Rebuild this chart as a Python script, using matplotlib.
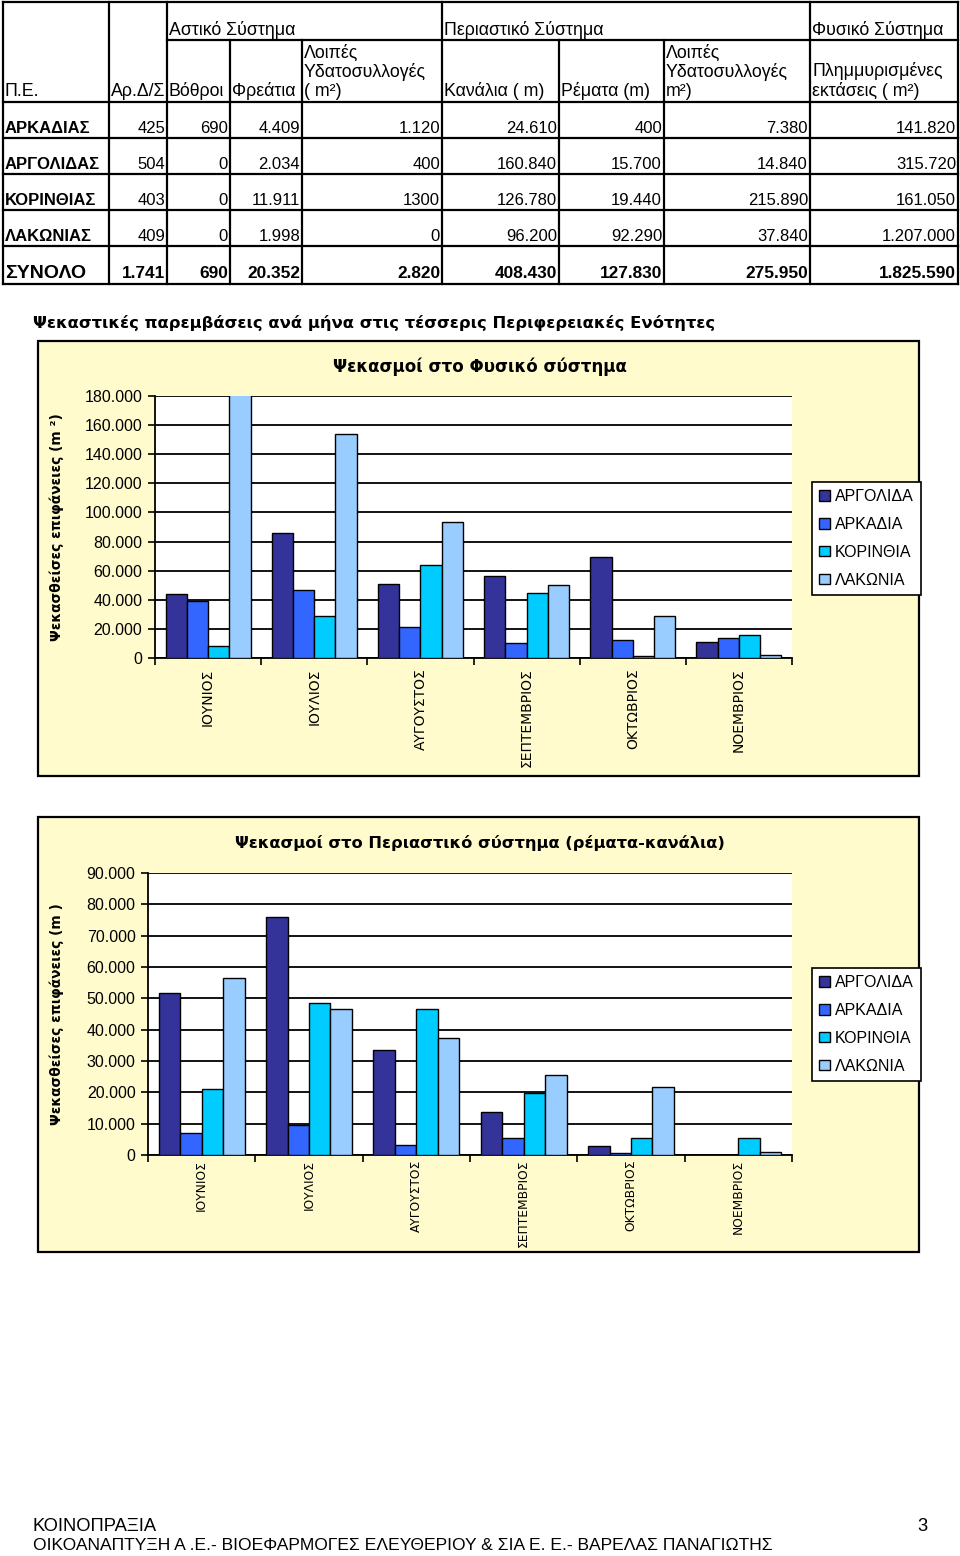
import numpy as np
import matplotlib
matplotlib.use("Agg")
import matplotlib.pyplot as plt
from matplotlib.patches import Rectangle
from matplotlib.ticker import FixedLocator, FuncFormatter

# --- table data (as printed) ---
REGIONS = ["ΑΡΚΑΔΙΑΣ", "ΑΡΓΟΛΙΔΑΣ", "ΚΟΡΙΝΘΙΑΣ", "ΛΑΚΩΝΙΑΣ"]
AR_DS = ["425", "504", "403", "409"]
VOTHROI = ["690", "0", "0", "0"]
FREATIA = ["4.409", "2.034", "11.911", "1.998"]
ASTIKO_LOIPES = ["1.120", "400", "1300", "0"]
KANALIA = ["24.610", "160.840", "126.780", "96.200"]
REMATA = ["400", "15.700", "19.440", "92.290"]
PERI_LOIPES = ["7.380", "14.840", "215.890", "37.840"]
PLIMMYRES = ["141.820", "315.720", "161.050", "1.207.000"]
TOTAL_LABEL = "ΣΥΝΟΛΟ"
TOTALS = ["1.741", "690", "20.352", "2.820", "408.430", "127.830", "275.950", "1.825.590"]

GROUP_HEADERS = ["Αστικό Σύστημα", "Περιαστικό Σύστημα", "Φυσικό Σύστημα"]
COL_HEADERS = ["Π.Ε.", "Αρ.Δ/Σ", "Βόθροι", "Φρεάτια", "Λοιπές\nΥδατοσυλλογές\n( m²)",
               "Κανάλια ( m)", "Ρέματα (m)", "Λοιπές\nΥδατοσυλλογές\nm²)",
               "Πλημμυρισμένες\nεκτάσεις ( m²)"]

# --- chart data ---
MONTHS = ["ΙΟΥΝΙΟΣ", "ΙΟΥΛΙΟΣ", "ΑΥΓΟΥΣΤΟΣ", "ΣΕΠΤΕΜΒΡΙΟΣ", "ΟΚΤΩΒΡΙΟΣ", "ΝΟΕΜΒΡΙΟΣ"]
SERIES = ["ΑΡΓΟΛΙΔΑ", "ΑΡΚΑΔΙΑ", "ΚΟΡΙΝΘΙΑ", "ΛΑΚΩΝΙΑ"]
COLORS = ["#333399", "#3366FF", "#00CCFF", "#99CCFF"]

fysiko_argolida = [44000, 85800, 50900, 56000, 69300, 11200]
fysiko_arkadia = [39400, 47000, 21300, 10300, 12400, 13500]
fysiko_korinthia = [8000, 28700, 64000, 44700, 1100, 15600]
fysiko_lakonia = [879000, 153600, 93600, 50000, 28700, 2300]

peri_argolida = [51800, 75900, 33500, 13800, 2900, 0]
peri_arkadia = [7000, 9700, 3300, 5300, 500, 0]
peri_korinthia = [21200, 48500, 46700, 19800, 5300, 5300]
peri_lakonia = [56500, 46700, 37300, 25500, 21700, 1000]

W, H = 960, 1556
BG = "#FFFBCC"
BOLD_FONT = ["DejaVu Sans"]
TABLE_FONT = ["Liberation Sans", "DejaVu Sans"]
FOOT_FONT = ["Liberation Sans Narrow", "Liberation Sans"]

fig = plt.figure(figsize=(W / 100, H / 100), dpi=100)
base = fig.add_axes([0, 0, 1, 1])
base.set_xlim(0, W)
base.set_ylim(H, 0)
base.axis("off")

# --- table grid ---
lw = 1.6
xs_full = [3, 109, 167, 442, 810, 958]
xs_sub = [230, 302, 559, 664]
ys_full = [2, 102, 138, 174, 210, 246, 284]
for x in xs_full:
    base.plot([x, x], [2, 284], color="black", lw=lw)
for x in xs_sub:
    base.plot([x, x], [40, 284], color="black", lw=lw)
for y in ys_full:
    base.plot([3, 958], [y, y], color="black", lw=lw)
base.plot([167, 958], [40, 40], color="black", lw=lw)

fs = 12
hfs = 12.8
for x, t in zip([169, 444, 812], GROUP_HEADERS):
    base.text(x, 35, t, fontsize=hfs, family=TABLE_FONT, va="baseline")
col_left = [3, 109, 167, 230, 302, 442, 559, 664, 810]
col_right = [109, 167, 230, 302, 442, 559, 664, 810, 958]
for x, t in zip(col_left, COL_HEADERS):
    base.text(x + 2, 100, t, fontsize=hfs, family=TABLE_FONT, va="bottom",
              linespacing=1.12)

columns = [AR_DS, VOTHROI, FREATIA, ASTIKO_LOIPES, KANALIA, REMATA, PERI_LOIPES, PLIMMYRES]
for i, region in enumerate(REGIONS):
    yb = ys_full[i + 2] - 5
    base.text(5, yb, region, fontsize=fs, family=TABLE_FONT, weight="bold", va="baseline")
    for j, col in enumerate(columns):
        base.text(col_right[j + 1] - 2, yb, col[i], fontsize=fs, family=TABLE_FONT,
                  ha="right", va="baseline")
yb = 284 - 6
base.text(5, yb, TOTAL_LABEL, fontsize=14, family=TABLE_FONT, weight="bold", va="baseline")
for j, v in enumerate(TOTALS):
    base.text(col_right[j + 1] - 2, yb, v, fontsize=12.4, family=TABLE_FONT,
              weight="bold", ha="right", va="baseline")

base.text(33, 323, "Ψεκαστικές παρεμβάσεις ανά μήνα στις τέσσερις Περιφερειακές Ενότητες",
          fontsize=11.8, family=BOLD_FONT, weight="bold", va="center")

# footer
base.text(33, 1531, "ΚΟΙΝΟΠΡΑΞΙΑ", fontsize=13.2, family=FOOT_FONT, va="baseline")
base.text(927, 1531, "3", fontsize=13.2, family=FOOT_FONT, va="baseline", ha="right")
base.text(33, 1550,
          "ΟΙΚΟΑΝΑΠΤΥΞΗ Α .Ε.- ΒΙΟΕΦΑΡΜΟΓΕΣ ΕΛΕΥΘΕΡΙΟΥ & ΣΙΑ Ε. Ε.- ΒΑΡΕΛΑΣ ΠΑΝΑΓΙΩΤΗΣ",
          fontsize=12.6, family=FOOT_FONT, va="baseline")


def fmt(v, _pos=None):
    return f"{v:,.0f}".replace(",", ".")


def bar_chart(frame, plot, series, ymax, ystep, title, title_y, title_fs, ylabel,
              month_fs, month_pad, legend_xy):
    fx0, fy0, fx1, fy1 = frame
    base.add_patch(Rectangle((fx0, fy0), fx1 - fx0, fy1 - fy0, facecolor=BG,
                             edgecolor="black", lw=1.6, zorder=0))
    px0, py0, px1, py1 = plot
    ax = fig.add_axes([px0 / W, 1 - py1 / H, (px1 - px0) / W, (py1 - py0) / H])
    x = np.arange(len(MONTHS))
    width = 0.2
    for k, (vals, color) in enumerate(zip(series, COLORS)):
        ax.bar(x + (k - 1.5) * width, vals, width, color=color, edgecolor="black",
               lw=1.0, zorder=3, label=SERIES[k])
    ax.set_xlim(-0.5, len(MONTHS) - 0.5)
    ax.set_ylim(0, ymax)
    ax.yaxis.set_major_locator(FixedLocator(np.arange(0, ymax + 1, ystep)))
    ax.yaxis.set_major_formatter(FuncFormatter(fmt))
    ax.grid(axis="y", color="black", lw=1.3, zorder=0)
    ax.xaxis.set_major_locator(FixedLocator(np.arange(-0.5, len(MONTHS), 1.0)))
    ax.xaxis.set_major_formatter(FuncFormatter(lambda v, p: ""))
    ax.set_xticks(x, MONTHS, minor=True)
    ax.tick_params(axis="x", which="minor", length=0, rotation=90, labelsize=month_fs,
                   pad=month_pad)
    ax.tick_params(axis="x", which="major", length=5, width=1.2, direction="out")
    ax.tick_params(axis="y", length=5, width=1.2, direction="out", labelsize=11.5, pad=4)
    for lab in ax.get_yticklabels():
        lab.set_family(TABLE_FONT)
    for lab in ax.get_xticklabels(minor=True):
        lab.set_family(BOLD_FONT)
        lab.set_va("top")
    for s in ["top", "right"]:
        ax.spines[s].set_visible(False)
    for s in ["left", "bottom"]:
        ax.spines[s].set_linewidth(1.3)
    ax.set_facecolor("white")
    base.text((fx0 + fx1) / 2 + 1, title_y, title, fontsize=title_fs, family=BOLD_FONT,
              weight="bold", ha="center", va="center")
    base.text(57, (py0 + py1) / 2, ylabel, fontsize=9.9, family=BOLD_FONT,
              weight="bold", rotation=90, ha="center", va="center")
    lx0, ly0 = legend_xy
    handles, labels = ax.get_legend_handles_labels()
    leg = fig.legend(handles, labels, loc="upper left",
                     bbox_to_anchor=(lx0 / W, 1 - ly0 / H),
                     bbox_transform=fig.transFigure, borderaxespad=0,
                     fancybox=False, edgecolor="black", framealpha=1,
                     prop={"family": TABLE_FONT, "size": 11.5}, handlelength=0.65,
                     handleheight=0.65, handletextpad=0.35, labelspacing=0.8,
                     borderpad=0.45)
    leg.get_frame().set_linewidth(1.2)
    for hnd in leg.legend_handles:
        hnd.set_linewidth(1.0)
    return ax


bar_chart((38, 341, 919, 776), (155, 396, 792, 658),
          [fysiko_argolida, fysiko_arkadia, fysiko_korinthia, fysiko_lakonia],
          180000, 20000, "Ψεκασμοί στο Φυσικό σύστημα", 367, 12,
          "Ψεκασθείσες επιφάνειες (m ²)", 10, 7.5, (812, 482))

bar_chart((38, 817, 919, 1252), (148, 873, 792, 1155),
          [peri_argolida, peri_arkadia, peri_korinthia, peri_lakonia],
          90000, 10000, "Ψεκασμοί στο Περιαστικό σύστημα (ρέματα-κανάλια)", 843, 11.7,
          "Ψεκασθείσες επιφάνειες (m )", 8.8, 3.5, (812, 968))

fig.savefig("out.png", dpi=100, facecolor="white")
